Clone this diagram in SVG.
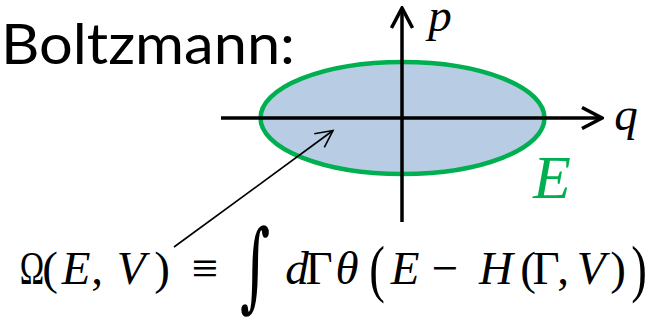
<svg xmlns="http://www.w3.org/2000/svg" width="652" height="321" viewBox="0 0 652 321">
<style>
.title{font-family:Lato,"Open Sans",sans-serif;font-size:56px;fill:#000}
.m{font-family:"Liberation Serif","Times New Roman",serif;font-size:47px;fill:#000;text-anchor:middle}
.i{font-style:italic}
.axis{stroke:#000;stroke-width:3.5;fill:none}
</style>
<defs>
<marker id="chev" markerUnits="userSpaceOnUse" viewBox="-22 -12 24 24" refX="0" refY="0" markerWidth="24" markerHeight="24" orient="auto">
<path d="M-20,-10.5 L0,0 L-20,10.5" fill="none" stroke="#000" stroke-width="3.5"/>
</marker>
<marker id="thin" markerUnits="userSpaceOnUse" viewBox="-20 -10 22 20" refX="0" refY="0" markerWidth="22" markerHeight="20" orient="auto">
<path d="M-17,-8.5 L0,0 L-17,8.5" fill="none" stroke="#000" stroke-width="1.6"/>
</marker>
</defs>
<text class="title" x="1" y="64" textLength="294" lengthAdjust="spacingAndGlyphs">Boltzmann:</text>
<g id="region">
<ellipse cx="402.5" cy="118" rx="142" ry="56" fill="#b8cce4" stroke="#00b050" stroke-width="4.5"/>
</g>
<g id="axes">
<line class="axis" x1="221" y1="118" x2="602" y2="118" marker-end="url(#chev)"/>
<line class="axis" x1="402" y1="222" x2="402" y2="8" marker-end="url(#chev)"/>
</g>
<g id="labels">
<text class="m i" x="440" y="31">p</text>
<text class="m i" x="626" y="130">q</text>
<text class="m i" x="552" y="198" style="font-size:62px;fill:#00b050">E</text>
</g>
<g id="connectors">
<line x1="174" y1="247" x2="333" y2="130.5" stroke="#000" stroke-width="1.6" marker-end="url(#thin)"/>
</g>
<g id="formula">
<text class="m" transform="translate(32,284) scale(0.7,1)">Ω</text>
<text class="m" y="284"><tspan x="50">(</tspan><tspan class="i" x="76">E</tspan><tspan x="97">,</tspan><tspan class="i" x="131">V</tspan><tspan x="162">)</tspan><tspan x="205">≡</tspan></text>
<text class="m" style="font-family:'DejaVu Serif',serif;font-size:40px" transform="translate(255,299) scale(1.45,2.44)">∫</text>
<text class="m" y="284"><tspan class="i" x="297">d</tspan><tspan x="319">Γ</tspan><tspan class="i" x="347">θ</tspan><tspan class="i" x="405">E</tspan><tspan x="445">−</tspan><tspan class="i" x="496">H</tspan><tspan x="528">(</tspan><tspan x="546">Γ</tspan><tspan x="563">,</tspan><tspan class="i" x="591">V</tspan><tspan x="618">)</tspan></text>
<text class="m" transform="translate(377,290) scale(1,1.35)">(</text>
<text class="m" transform="translate(639,290) scale(1,1.35)">)</text>
</g>
</svg>
